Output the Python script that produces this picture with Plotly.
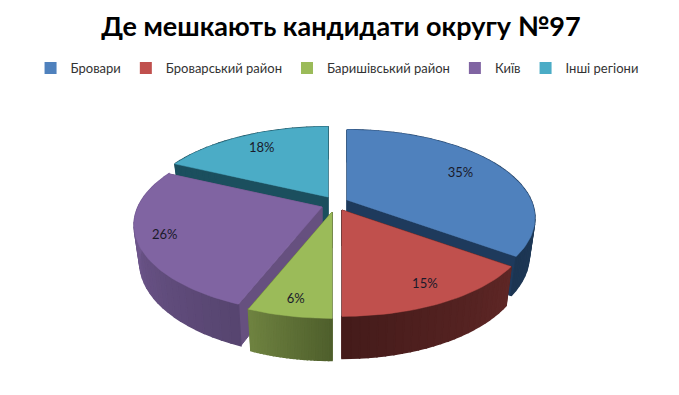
import math
import plotly.graph_objects as go

categories = ["Бровари", "Броварський район", "Баришівський район", "Київ", "Інші регіони"]
shares = [35, 15, 6, 26, 18]
title_text = "Де мешкають кандидати округу №97"

W, H = 679, 395
FONT = "Lato"
R, TILT, PERSP, DEPTH, SHRINK = 184.0, 0.46, 900.0, 36.0, 0.97
apex = [(347, 200), (342, 210), (332, 212), (322, 207), (328, 197)]
label_r = [0.74, 0.84, 0.87, 0.86, 0.76]
top_col = ["#4F81BD", "#C0504D", "#9BBB59", "#8064A2", "#4BACC6"]
wall_start = ["#2A4B73", "#5E2726", "#4F5F2C", "#574570", "#1B4F5E"]
wall_end = ["#1C3552", "#451B1A", "#6E8240", "#7B609C", "#1B4F5E"]
radial_col = ["#1E3A5C", "#451B1A", "#56682F", "#66507F", "#1B4F5E"]
draw_order = [0, 4, 3, 2, 1]


def project(ang, r, low=False):
    x = math.sin(ang) * r
    y = -math.cos(ang) * r
    s = 1 / (1 - y / PERSP)
    q = SHRINK if low else 1.0
    return x * s * q, y * TILT * s * q + (DEPTH * s if low else 0.0)


def mix(a, b, t):
    pa = [int(a[i:i + 2], 16) for i in (1, 3, 5)]
    pb = [int(b[i:i + 2], 16) for i in (1, 3, 5)]
    return "rgb(%d,%d,%d)" % tuple(round(u + (v - u) * t) for u, v in zip(pa, pb))


def poly(points, color, width=1.0):
    return go.Scatter(x=[p[0] for p in points] + [points[0][0]],
                      y=[p[1] for p in points] + [points[0][1]],
                      mode="lines", fill="toself", fillcolor=color,
                      line=dict(width=width, color=color), hoverinfo="skip", showlegend=False)


total = sum(shares)
bounds, acc = [], 0.0
for v in shares:
    bounds.append((acc / total * 2 * math.pi, (acc + v) / total * 2 * math.pi))
    acc += v

fig = go.Figure()
labels = []
for i in draw_order:
    a0, a1 = bounds[i]
    cx, cy = apex[i]
    at = lambda a, low=False: (cx + project(a, R, low)[0], cy + project(a, R, low)[1])
    for a in (a0, a1):
        lx, ly = project(a, 0, True)
        fig.add_trace(poly([(cx, cy), at(a), at(a, True), (cx + lx, cy + ly)], radial_col[i]))
    bands = max(24, int((a1 - a0) / 0.05))
    for b in range(bands):
        u0 = a0 + (a1 - a0) * b / bands
        u1 = a0 + (a1 - a0) * (b + 1) / bands
        pts = [at(u0 + (u1 - u0) * k / 3) for k in range(4)]
        pts += [at(u1 - (u1 - u0) * k / 3, True) for k in range(4)]
        fig.add_trace(poly(pts, mix(wall_start[i], wall_end[i], b / max(1, bands - 1)), 1.5))
    n = max(8, int((a1 - a0) / 0.03))
    top = [(cx, cy)] + [at(a0 + (a1 - a0) * k / n) for k in range(n + 1)]
    fig.add_trace(poly(top, top_col[i], 0.5))
    mx, my = project((a0 + a1) / 2, R * label_r[i])
    labels.append((cx + mx, cy + my, f"{shares[i]}%"))

fig.add_trace(go.Scatter(x=[p[0] for p in labels], y=[p[1] for p in labels],
                         text=[p[2] for p in labels], mode="text",
                         textfont=dict(family=FONT, size=13, color="#1a1a2a"),
                         hoverinfo="skip", showlegend=False))

for name, col in zip(categories, top_col):
    fig.add_trace(go.Scatter(x=[None], y=[None], mode="markers", name=name,
                             marker=dict(symbol="square", size=8, color=col)))

fig.update_layout(
    width=W, height=H, autosize=False,
    margin=dict(l=0, r=0, t=0, b=0, autoexpand=False),
    paper_bgcolor="white", plot_bgcolor="white",
    xaxis=dict(range=[0, W], visible=False, fixedrange=True),
    yaxis=dict(range=[H, 0], visible=False, fixedrange=True),
    title=dict(text=f"<b>{title_text}</b>", x=341 / W, xanchor="center", y=1 - 27 / H, yanchor="middle",
               font=dict(family=FONT, size=27, color="black")),
    legend=dict(orientation="h", x=0.045, xanchor="left", y=1 - 68 / H, yanchor="middle",
                font=dict(family=FONT, size=13, color="#333333"), itemsizing="constant",
                bgcolor="rgba(0,0,0,0)", traceorder="normal", itemwidth=30),
)
fig.write_html("out.html", post_script="document.body.style.margin='0';",
               config={"displayModeBar": False})
